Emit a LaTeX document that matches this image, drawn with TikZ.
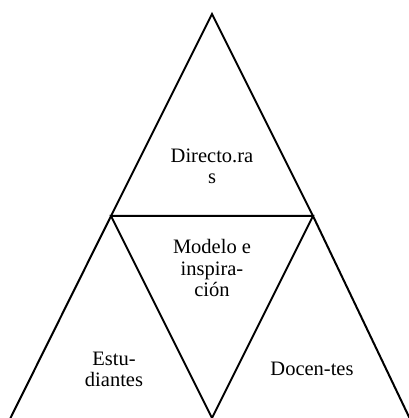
\documentclass[tikz,border=0pt]{standalone}
\usepackage{fontspec}
\setmainfont{Liberation Serif}
\begin{document}
\begin{tikzpicture}[x=1pt,y=1pt,
  edge/.style={draw=black,line width=2pt,line join=miter},
  lbl/.style={align=center,inner sep=0pt,anchor=base,font=\fontsize{20.5}{21.5}\selectfont}]
\useasboundingbox (0,0) rectangle (409,418);
\coordinate (apex) at (212,404);
\coordinate (ml) at (111,202);
\coordinate (mr) at (313,202);
\coordinate (bl) at (10,-1);
\coordinate (br) at (410,-1);
\coordinate (ib) at (212,0);
\draw[edge] (bl) -- (ml) -- (apex) -- (mr) -- (br);
\draw[edge] (ml) -- (mr) -- (ib) -- cycle;
\node[lbl] (dir) at (212,234) {Directo.ra\\s};
\node[lbl] (mod) at (212,121) {Modelo e\\inspira-\\ción};
\node[lbl] (est) at (114,31) {Estu-\\diantes};
\node[lbl] (doc) at (312,42) {Docen-tes};
\end{tikzpicture}
\end{document}
